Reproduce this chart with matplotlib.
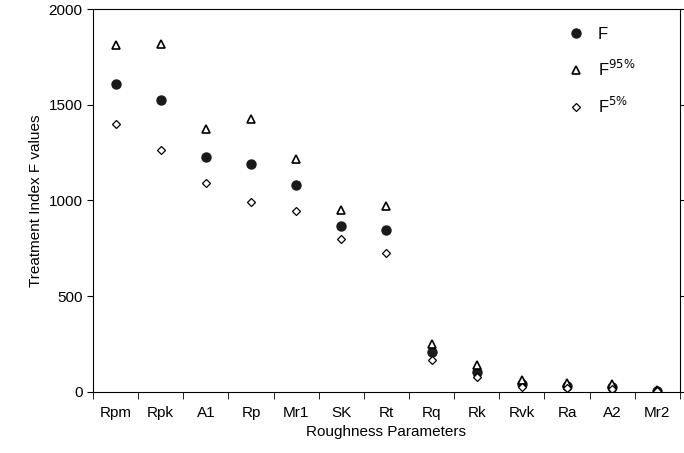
import matplotlib
matplotlib.use("Agg")
import matplotlib.pyplot as plt
import numpy as np

cats = ["Rpm","Rpk","A1","Rp","Mr1","SK","Rt","Rq","Rk","Rvk","Ra","A2","Mr2"]
F = [1606,1524,1226,1191,1079,867,844,207,105,40,30,25,5]
F95 = [1812,1820,1371,1425,1215,950,973,250,140,60,48,40,8]
F5 = [1398,1264,1090,992,943,799,727,165,75,25,20,15,3]

plt.rcParams['font.family'] = ['Liberation Sans', 'DejaVu Sans']
fig = plt.figure(figsize=(6.84,4.53), dpi=100)
ax = fig.add_axes([0.136, 0.135, 0.858, 0.845])
x = np.arange(len(cats))
ax.plot(x, F, 'o', color='#1a1a1a', ms=6.5, label='F', ls='none')
ax.plot(x, F95, '^', mfc='white', mec='black', mew=1.2, ms=5.5, label='F$^{95\\%}$', ls='none')
ax.plot(x, F5, 'D', mfc='white', mec='black', mew=0.9, ms=4.5, label='F$^{5\\%}$', ls='none')
ax.set_xlim(-0.5, len(cats)-0.5)
ax.set_ylim(0, 2000)
ax.set_yticks([0,500,1000,1500,2000])
ax.set_xticks(x)
ax.set_xticklabels(cats, fontsize=11)
ax.set_xticks(np.arange(-0.5, len(cats)), minor=True)
ax.tick_params(axis='x', which='major', length=0, pad=10)
ax.tick_params(axis='x', which='minor', length=5, direction='out')
ax.tick_params(axis='y', labelsize=11, direction='out', length=4, right=True)
ax.set_xlabel("Roughness Parameters", fontsize=11)
ax.set_ylabel("Treatment Index F values", fontsize=11)
leg = ax.legend(loc='upper right', frameon=False, fontsize=12, handletextpad=0.3,
                labelspacing=1.0, bbox_to_anchor=(0.935, 0.97), borderaxespad=0)
fig.savefig("out.png", dpi=100)
